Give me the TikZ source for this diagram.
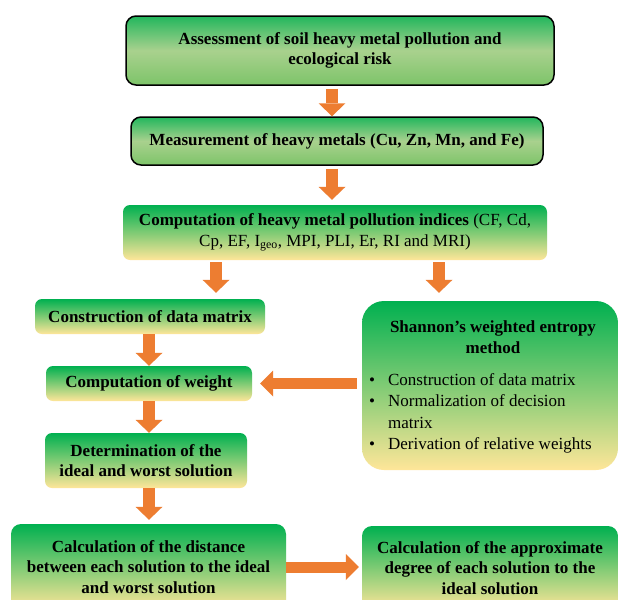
\documentclass[tikz,border=0pt]{standalone}
\usepackage{fontspec}
\setmainfont{Liberation Serif}
\usetikzlibrary{arrows.meta,calc}
\definecolor{gtop}{RGB}{0,176,80}
\definecolor{ybot}{RGB}{255,230,153}
\definecolor{lgreen}{RGB}{169,209,142}
\definecolor{mgreen}{RGB}{125,196,105}
\definecolor{arrowc}{RGB}{237,125,49}
\begin{document}
\begin{tikzpicture}[x=1pt,y=-1pt,
  txt/.style={font=\fontsize{17}{20.5}\selectfont},
  bftxt/.style={font=\fontsize{17}{20.5}\selectfont\bfseries},
  gbox/.style={rounded corners=7pt, top color=gtop, bottom color=ybot, inner sep=0pt, align=center},
  bbox/.style={rounded corners=10pt, draw=black, line width=1.5pt, top color=gtop!80!lgreen, bottom color=mgreen, middle color=lgreen, inner sep=0pt, align=center, bftxt},
  barrow/.style={draw=arrowc, line width=12pt, -{Triangle[width=27pt,length=13pt,line width=0pt]}},
  harrow/.style={draw=arrowc, line width=11pt, -{Triangle[width=26pt,length=13pt,line width=0pt]}},
]
\useasboundingbox (0,0) rectangle (619,600);
\fill[white] (0,0) rectangle (619,600);
\clip (0,0) rectangle (619,600);

\node[bbox, minimum width=428pt, minimum height=69pt] (B1) at (340,50.5)
  {Assessment of soil heavy metal pollution and\\ ecological risk};
\node[bbox, minimum width=412pt, minimum height=48pt] (B2) at (337,141)
  {Measurement of heavy metals (Cu, Zn, Mn, and Fe)};
\node[gbox, txt, minimum width=424pt, minimum height=55pt] (B3) at (335,232.5)
  {\textbf{Computation of heavy metal pollution indices} (CF, Cd,\\ Cp, EF, I\textsubscript{geo}, MPI, PLI, Er, RI and MRI)};
\node[gbox, bftxt, minimum width=230pt, minimum height=35pt] (B4) at (150,316.5)
  {Construction of data matrix};
\node[gbox, bftxt, minimum width=206pt, minimum height=35pt] (B5) at (149,383.5)
  {Computation of weight};
\node[gbox, bftxt, minimum width=202pt, minimum height=55pt] (B6) at (146,460.5)
  {Determination of the\\ ideal and worst solution};
\node[gbox, bftxt, rounded corners=10pt, minimum width=275pt, minimum height=86pt] (B7) at (148.5,567)
  {Calculation of the distance\\ between each solution to the ideal\\ and worst solution};
\node[gbox, bftxt, rounded corners=10pt, minimum width=256pt, minimum height=84pt] (B8) at (490,568)
  {Calculation of the approximate\\ degree of each solution to the\\ ideal solution};
\node[gbox, rounded corners=22pt, minimum width=256pt, minimum height=169pt] (S) at (490,385.5) {};
\node[bftxt, align=center, inner sep=0pt] (ST) at (493,337)
  {Shannon’s weighted entropy\\ method};
\node[txt, anchor=west, inner sep=0pt] (SL) at (369,413)
  {\renewcommand\arraystretch{1.05}%
   \begin{tabular}{@{}c@{\hspace{13pt}}l@{}}
   \textbullet & Construction of data matrix\\
   \textbullet & Normalization of decision\\
               & matrix\\
   \textbullet & Derivation of relative weights
   \end{tabular}};

\draw[barrow, shorten <=3pt] ([xshift=-8pt]B1.south) -- ([xshift=-8pt]B1.south |- B2.north);
\draw[barrow, shorten <=3pt, shorten >=5pt] ([xshift=-5pt]B2.south) -- ([xshift=-5pt]B2.south |- B3.north);
\draw[barrow, shorten <=2pt, shorten >=6pt] ([xshift=-119pt]B3.south) -- ([xshift=-119pt]B3.south |- B4.north);
\draw[barrow, shorten <=2pt, shorten >=8pt] ([xshift=104pt]B3.south) -- ([xshift=104pt]B3.south |- S.north);
\draw[barrow] ([xshift=-1pt]B4.south) -- ([xshift=-1pt]B4.south |- B5.north);
\draw[barrow] (B5.south) -- (B5.south |- B6.north);
\draw[barrow, shorten >=4pt] ([xshift=3pt]B6.south) -- ([xshift=3pt]B6.south |- B7.north);
\draw[harrow, shorten <=5pt, shorten >=8pt] (S.west |- B5.east) -- (B5.east);
\draw[harrow, shorten >=3pt] (B7.east) -- (B7.east -| B8.west);
\end{tikzpicture}
\end{document}
